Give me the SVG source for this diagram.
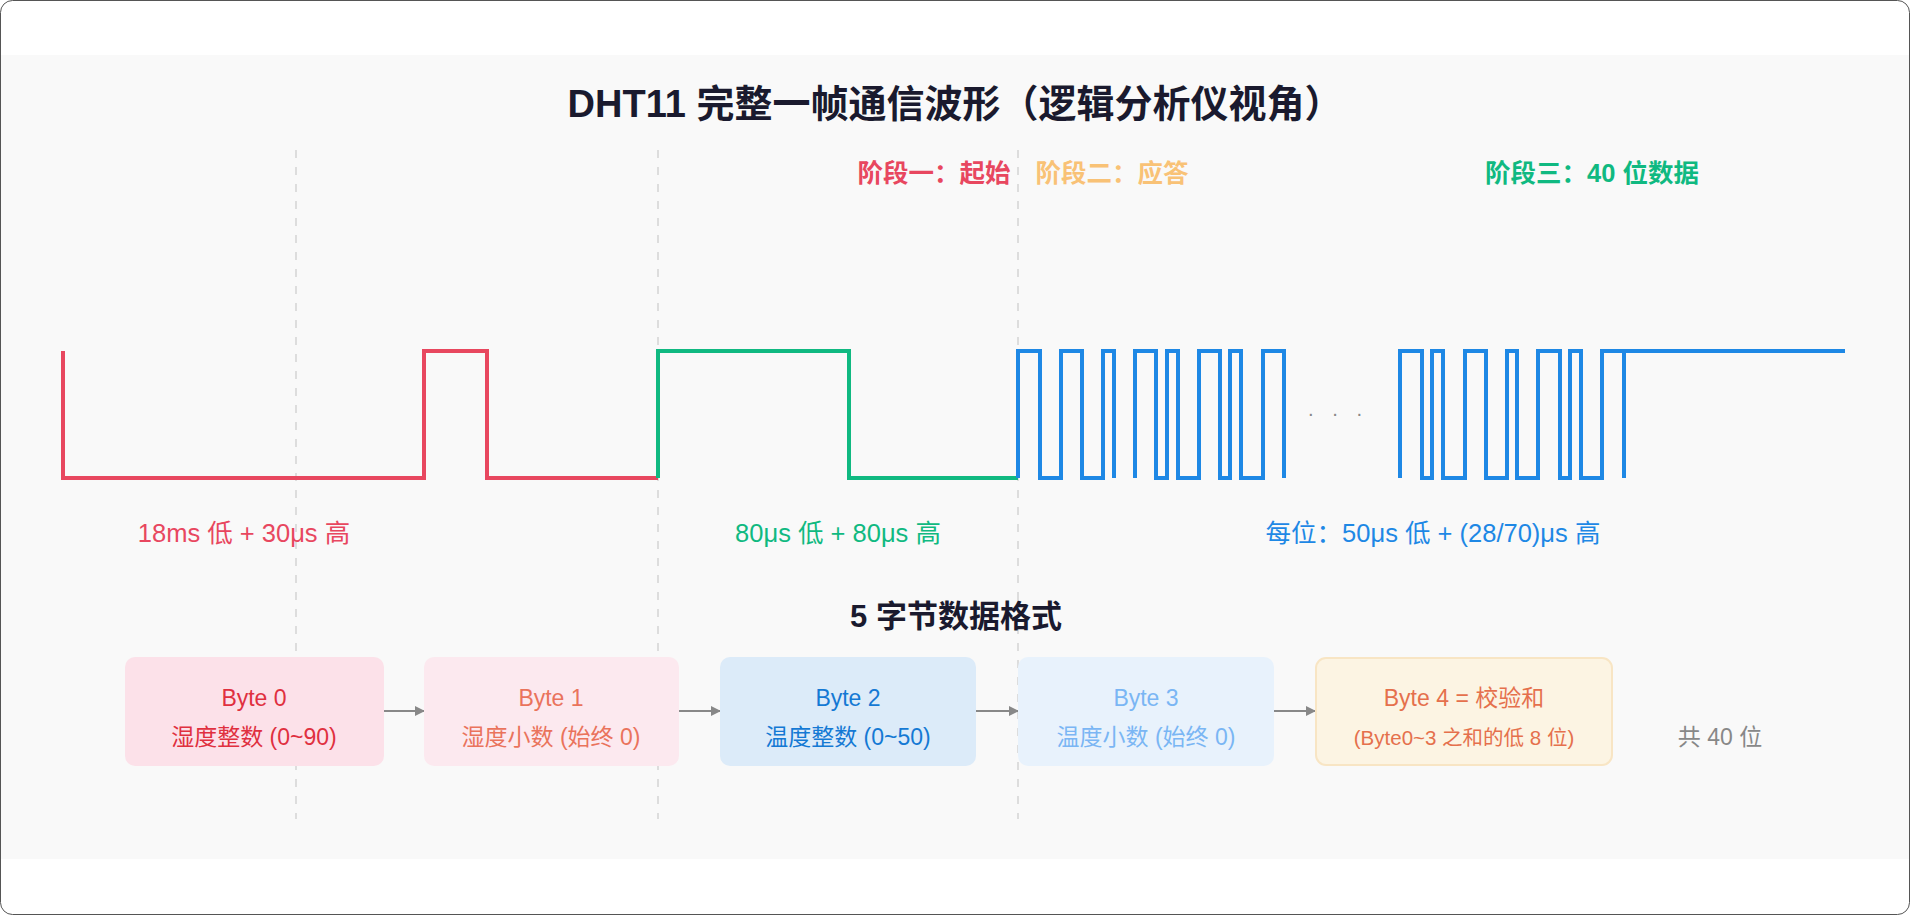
<svg xmlns="http://www.w3.org/2000/svg" width="1910" height="915" viewBox="0 0 1910 915">
<defs>
<style>
text{font-family:"Liberation Sans","Noto Sans CJK SC",sans-serif;text-anchor:middle}
.t{font-weight:bold;font-size:38px;fill:#1a1a2e}
.ph{font-weight:bold;font-size:25.5px}
.lb{font-size:25.5px}
.w{fill:none;stroke-width:4;stroke-linejoin:miter}
.dash{stroke:#d4d4d4;stroke-width:1.5;stroke-dasharray:8 9}
.bx{font-size:23px}
.ar{stroke:#888;stroke-width:2;fill:none}
</style>
<marker id="ah" markerWidth="10" markerHeight="10" refX="9" refY="5" orient="auto" markerUnits="userSpaceOnUse"><path d="M0,0 L10,5 L0,10 z" fill="#888"/></marker>
</defs>
<rect x="0.5" y="0.5" width="1909" height="914" rx="12" fill="#fff" stroke="#555"/>
<rect x="1" y="55" width="1908" height="804" fill="#f9f9f9"/>
<text class="t" x="955" y="117">DHT11 完整一帧通信波形（逻辑分析仪视角）</text>
<g id="dividers">
<line class="dash" x1="296" y1="150" x2="296" y2="819"/>
<line class="dash" x1="658" y1="150" x2="658" y2="819"/>
<line class="dash" x1="1018" y1="150" x2="1018" y2="819"/>
</g>
<text class="ph" x="934" y="182" fill="#e8475f">阶段一：起始</text>
<text class="ph" x="1112" y="182" fill="#f9c276">阶段二：应答</text>
<text class="ph" x="1592" y="182" fill="#10b981">阶段三：40 位数据</text>
<g id="wave-start">
<polyline class="w" stroke="#e8475f" points="63,351 63,478 424,478 424,351 487,351 487,478 658,478"/>
</g>
<g id="wave-response">
<polyline class="w" stroke="#10b981" points="658,478 658,351 849,351 849,478 1018,478"/>
</g>
<g id="wave-data" stroke="#1e88e5">
<polyline class="w" points="1018,478 1018,351 1040,351 1040,478 1061,478 1061,351 1082,351 1082,478 1103,478 1103,351 1114,351 1114,478"/>
<polyline class="w" points="1135,478 1135,351 1156,351 1156,478 1167,478 1167,351 1178,351 1178,478 1199,478 1199,351 1220,351 1220,478 1230,478 1230,351 1241,351 1241,478 1263,478 1263,351 1284,351 1284,478"/>
<polyline class="w" points="1400,478 1400,351 1422,351 1422,478 1432,478 1432,351 1443,351 1443,478 1465,478 1465,351 1486,351 1486,478 1507,478 1507,351 1517,351 1517,478 1538,478 1538,351 1560,351 1560,478 1570,478 1570,351 1581,351 1581,478 1602,478 1602,351 1624,351 1624,478"/>
<polyline class="w" points="1624,351 1845,351"/>
</g>
<text x="1338" y="420" font-size="20" fill="#888" letter-spacing="6">· · ·</text>
<text class="lb" x="244" y="542" fill="#e8475f">18ms 低 + 30μs 高</text>
<text class="lb" x="838" y="542" fill="#10b981">80μs 低 + 80μs 高</text>
<text class="lb" x="1433" y="542" fill="#1e88e5">每位：50μs 低 + (28/70)μs 高</text>
<text x="956" y="627" font-size="31" font-weight="bold" fill="#1a1a2e">5 字节数据格式</text>
<g id="connectors">
<line class="ar" x1="384" y1="711" x2="424" y2="711" marker-end="url(#ah)"/>
<line class="ar" x1="679" y1="711" x2="720" y2="711" marker-end="url(#ah)"/>
<line class="ar" x1="976" y1="711" x2="1018" y2="711" marker-end="url(#ah)"/>
<line class="ar" x1="1274" y1="711" x2="1315" y2="711" marker-end="url(#ah)"/>
</g>
<g id="byte0"><rect x="125" y="657" width="259" height="109" rx="10" fill="#fce1e9"/>
<text class="bx" x="254" y="706" fill="#e0303f">Byte 0</text><text class="bx" x="254" y="745" fill="#e0303f">湿度整数 (0~90)</text></g>
<g id="byte1"><rect x="424" y="657" width="255" height="109" rx="10" fill="#fce9ef"/>
<text class="bx" x="551" y="706" fill="#ea735c">Byte 1</text><text class="bx" x="551" y="745" fill="#ea735c">湿度小数 (始终 0)</text></g>
<g id="byte2"><rect x="720" y="657" width="256" height="109" rx="10" fill="#dcebf9"/>
<text class="bx" x="848" y="706" fill="#1479d4">Byte 2</text><text class="bx" x="848" y="745" fill="#1479d4">温度整数 (0~50)</text></g>
<g id="byte3"><rect x="1018" y="657" width="256" height="109" rx="10" fill="#e8f2fc"/>
<text class="bx" x="1146" y="706" fill="#7ab6f4">Byte 3</text><text class="bx" x="1146" y="745" fill="#7ab6f4">温度小数 (始终 0)</text></g>
<g id="byte4"><rect x="1316" y="658" width="296" height="107" rx="10" fill="#fcf4e3" stroke="#f8e5c4" stroke-width="2"/>
<text class="bx" x="1464" y="706" fill="#e5704c">Byte 4 = 校验和</text><text x="1464" y="745" font-size="20.5" fill="#e5704c">(Byte0~3 之和的低 8 位)</text></g>
<text x="1720" y="745" font-size="23" fill="#888">共 40 位</text>
</svg>
